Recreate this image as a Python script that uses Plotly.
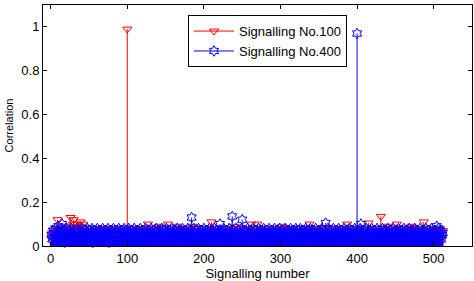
import plotly.graph_objects as go

# Signalling index (categories on the x axis)
signal_index = list(range(1, 513))

# Correlation values (Signalling No.100, red)
corr_no100 = [
    0.04, 0.06, 0.02, 0.07, 0.05, 0.03, 0.08, 0.06, 0.12, 0.04, 0.05, 0.02, 0.07, 0.09, 0.03, 0.06,
    0.05, 0.01, 0.07, 0.04, 0.08, 0.06, 0.03, 0.09, 0.05, 0.13, 0.07, 0.04, 0.10, 0.12, 0.06, 0.03,
    0.08, 0.05, 0.10, 0.07, 0.02, 0.09, 0.11, 0.06, 0.04, 0.10, 0.08, 0.05, 0.03, 0.07, 0.06, 0.02,
    0.05, 0.07, 0.03, 0.06, 0.08, 0.04, 0.01, 0.07, 0.05, 0.03, 0.06, 0.08, 0.04, 0.02, 0.07, 0.05,
    0.03, 0.06, 0.08, 0.05, 0.02, 0.07, 0.04, 0.06, 0.03, 0.08, 0.05, 0.01, 0.06, 0.04, 0.07, 0.05,
    0.06, 0.03, 0.07, 0.05, 0.08, 0.02, 0.04, 0.06, 0.07, 0.03, 0.05, 0.08, 0.04, 0.06, 0.02, 0.07,
    0.05, 0.03, 0.06, 0.99, 0.04, 0.07, 0.05, 0.02, 0.06, 0.08, 0.04, 0.05, 0.03, 0.07, 0.06, 0.04,
    0.08, 0.05, 0.02, 0.06, 0.04, 0.07, 0.03, 0.05, 0.08, 0.06, 0.02, 0.04, 0.07, 0.05, 0.10, 0.06,
    0.03, 0.07, 0.05, 0.04, 0.08, 0.06, 0.02, 0.05, 0.07, 0.03, 0.06, 0.04, 0.09, 0.05, 0.03, 0.07,
    0.04, 0.06, 0.08, 0.05, 0.03, 0.07, 0.05, 0.02, 0.10, 0.06, 0.04, 0.08, 0.05, 0.03, 0.06, 0.07,
    0.05, 0.02, 0.06, 0.04, 0.09, 0.07, 0.03, 0.05, 0.08, 0.06, 0.04, 0.02, 0.07, 0.05, 0.03, 0.06,
    0.08, 0.04, 0.06, 0.03, 0.05, 0.07, 0.02, 0.06, 0.09, 0.04, 0.05, 0.07, 0.03, 0.06, 0.08, 0.05,
    0.02, 0.06, 0.04, 0.07, 0.05, 0.03, 0.08, 0.06, 0.04, 0.02, 0.07, 0.05, 0.06, 0.03, 0.08, 0.04,
    0.06, 0.11, 0.05, 0.03, 0.07, 0.04, 0.06, 0.02, 0.08, 0.05, 0.03, 0.06, 0.07, 0.04, 0.05, 0.02,
    0.07, 0.05, 0.03, 0.06, 0.08, 0.04, 0.06, 0.02, 0.05, 0.07, 0.03, 0.06, 0.04, 0.08, 0.05, 0.09,
    0.03, 0.06, 0.04, 0.07, 0.05, 0.02, 0.06, 0.08, 0.04, 0.05, 0.03, 0.07, 0.06, 0.04, 0.02, 0.05,
    0.07, 0.04, 0.06, 0.03, 0.08, 0.10, 0.05, 0.02, 0.06, 0.04, 0.07, 0.05, 0.03, 0.10, 0.06, 0.04,
    0.05, 0.08, 0.03, 0.06, 0.04, 0.07, 0.02, 0.05, 0.06, 0.08, 0.04, 0.03, 0.07, 0.05, 0.06, 0.02,
    0.06, 0.04, 0.07, 0.05, 0.03, 0.08, 0.06, 0.04, 0.02, 0.07, 0.05, 0.06, 0.03, 0.09, 0.04, 0.06,
    0.08, 0.05, 0.03, 0.06, 0.04, 0.07, 0.05, 0.02, 0.06, 0.08, 0.04, 0.05, 0.07, 0.03, 0.06, 0.04,
    0.02, 0.07, 0.05, 0.04, 0.06, 0.08, 0.03, 0.05, 0.07, 0.04, 0.06, 0.02, 0.05, 0.07, 0.03, 0.06,
    0.08, 0.10, 0.04, 0.06, 0.03, 0.07, 0.05, 0.02, 0.06, 0.04, 0.08, 0.05, 0.03, 0.07, 0.06, 0.04,
    0.05, 0.07, 0.02, 0.06, 0.04, 0.08, 0.05, 0.03, 0.07, 0.06, 0.04, 0.02, 0.05, 0.07, 0.03, 0.06,
    0.04, 0.08, 0.06, 0.03, 0.05, 0.07, 0.04, 0.06, 0.02, 0.05, 0.08, 0.04, 0.06, 0.03, 0.07, 0.05,
    0.06, 0.03, 0.10, 0.05, 0.07, 0.04, 0.02, 0.06, 0.08, 0.05, 0.03, 0.07, 0.04, 0.06, 0.05, 0.03,
    0.07, 0.05, 0.08, 0.04, 0.06, 0.02, 0.07, 0.05, 0.03, 0.06, 0.08, 0.04, 0.05, 0.07, 0.105, 0.04,
    0.06, 0.03, 0.08, 0.05, 0.07, 0.04, 0.02, 0.06, 0.08, 0.05, 0.07, 0.04, 0.06, 0.03, 0.135, 0.07,
    0.05, 0.08, 0.03, 0.06, 0.04, 0.07, 0.05, 0.09, 0.06, 0.03, 0.07, 0.05, 0.08, 0.04, 0.06, 0.02,
    0.07, 0.05, 0.04, 0.10, 0.06, 0.08, 0.03, 0.05, 0.07, 0.04, 0.06, 0.08, 0.05, 0.02, 0.07, 0.06,
    0.04, 0.08, 0.05, 0.03, 0.07, 0.06, 0.09, 0.04, 0.05, 0.08, 0.03, 0.06, 0.07, 0.05, 0.02, 0.06,
    0.08, 0.04, 0.06, 0.05, 0.07, 0.03, 0.11, 0.06, 0.04, 0.08, 0.05, 0.07, 0.02, 0.06, 0.04, 0.08,
    0.05, 0.07, 0.03, 0.06, 0.08, 0.04, 0.06, 0.05, 0.02, 0.07, 0.05, 0.08, 0.04, 0.06, 0.03, 0.07,
]

# Correlation values (Signalling No.400, blue)
corr_no400 = [
    0.05, 0.03, 0.07, 0.04, 0.06, 0.08, 0.02, 0.05, 0.07, 0.09, 0.04, 0.06, 0.03, 0.08, 0.10, 0.05,
    0.07, 0.04, 0.06, 0.02, 0.08, 0.05, 0.03, 0.07, 0.06, 0.04, 0.08, 0.05, 0.02, 0.06, 0.07, 0.04,
    0.03, 0.06, 0.08, 0.05, 0.07, 0.02, 0.04, 0.06, 0.08, 0.03, 0.05, 0.07, 0.04, 0.06, 0.02, 0.08,
    0.05, 0.04, 0.07, 0.03, 0.06, 0.08, 0.05, 0.02, 0.07, 0.04, 0.06, 0.05, 0.08, 0.03, 0.06, 0.04,
    0.07, 0.02, 0.05, 0.08, 0.04, 0.06, 0.03, 0.07, 0.05, 0.04, 0.08, 0.06, 0.02, 0.05, 0.07, 0.03,
    0.06, 0.08, 0.04, 0.05, 0.02, 0.07, 0.06, 0.03, 0.08, 0.05, 0.04, 0.07, 0.06, 0.02, 0.05, 0.08,
    0.04, 0.06, 0.03, 0.07, 0.05, 0.08, 0.02, 0.06, 0.04, 0.07, 0.05, 0.03, 0.08, 0.06, 0.04, 0.05,
    0.02, 0.07, 0.06, 0.04, 0.08, 0.05, 0.03, 0.06, 0.07, 0.02, 0.05, 0.08, 0.04, 0.06, 0.03, 0.07,
    0.05, 0.04, 0.08, 0.06, 0.03, 0.07, 0.05, 0.02, 0.06, 0.08, 0.04, 0.05, 0.07, 0.03, 0.06, 0.04,
    0.08, 0.05, 0.02, 0.07, 0.06, 0.04, 0.08, 0.05, 0.03, 0.06, 0.07, 0.04, 0.02, 0.08, 0.05, 0.06,
    0.03, 0.07, 0.05, 0.04, 0.08, 0.06, 0.02, 0.05, 0.07, 0.04, 0.06, 0.08, 0.03, 0.05, 0.07, 0.04,
    0.06, 0.02, 0.08, 0.05, 0.04, 0.07, 0.06, 0.13, 0.03, 0.05, 0.08, 0.04, 0.06, 0.07, 0.02, 0.05,
    0.08, 0.04, 0.06, 0.03, 0.07, 0.05, 0.02, 0.08, 0.06, 0.04, 0.05, 0.07, 0.03, 0.06, 0.08, 0.04,
    0.05, 0.07, 0.03, 0.06, 0.04, 0.08, 0.05, 0.02, 0.07, 0.06, 0.04, 0.05, 0.10, 0.03, 0.07, 0.06,
    0.04, 0.08, 0.05, 0.02, 0.06, 0.07, 0.04, 0.05, 0.08, 0.03, 0.06, 0.04, 0.135, 0.07, 0.05, 0.02,
    0.06, 0.08, 0.04, 0.05, 0.07, 0.03, 0.06, 0.04, 0.08, 0.12, 0.05, 0.02, 0.07, 0.06, 0.04, 0.05,
    0.08, 0.03, 0.06, 0.05, 0.07, 0.04, 0.02, 0.08, 0.06, 0.05, 0.03, 0.07, 0.04, 0.06, 0.08, 0.05,
    0.02, 0.06, 0.07, 0.04, 0.05, 0.08, 0.03, 0.06, 0.04, 0.07, 0.05, 0.02, 0.08, 0.06, 0.04, 0.05,
    0.07, 0.03, 0.05, 0.08, 0.06, 0.04, 0.07, 0.02, 0.05, 0.06, 0.08, 0.04, 0.03, 0.07, 0.05, 0.06,
    0.04, 0.08, 0.06, 0.02, 0.05, 0.07, 0.04, 0.06, 0.08, 0.03, 0.05, 0.07, 0.06, 0.04, 0.02, 0.08,
    0.05, 0.06, 0.03, 0.07, 0.04, 0.08, 0.06, 0.05, 0.02, 0.07, 0.04, 0.06, 0.08, 0.05, 0.03, 0.06,
    0.07, 0.04, 0.08, 0.05, 0.02, 0.06, 0.07, 0.04, 0.05, 0.08, 0.03, 0.06, 0.04, 0.07, 0.05, 0.02,
    0.06, 0.08, 0.04, 0.05, 0.07, 0.03, 0.105, 0.06, 0.04, 0.08, 0.05, 0.02, 0.07, 0.06, 0.04, 0.05,
    0.08, 0.03, 0.06, 0.04, 0.07, 0.05, 0.02, 0.08, 0.06, 0.04, 0.05, 0.07, 0.03, 0.06, 0.08, 0.04,
    0.05, 0.07, 0.02, 0.06, 0.04, 0.08, 0.05, 0.03, 0.07, 0.06, 0.04, 0.05, 0.08, 0.02, 0.06, 0.97,
    0.04, 0.07, 0.05, 0.08, 0.10, 0.03, 0.06, 0.04, 0.07, 0.05, 0.02, 0.08, 0.06, 0.04, 0.05, 0.07,
    0.03, 0.06, 0.08, 0.05, 0.04, 0.07, 0.02, 0.06, 0.05, 0.08, 0.04, 0.06, 0.03, 0.07, 0.05, 0.04,
    0.08, 0.05, 0.02, 0.06, 0.07, 0.04, 0.05, 0.08, 0.03, 0.06, 0.04, 0.07, 0.05, 0.02, 0.08, 0.06,
    0.04, 0.05, 0.07, 0.03, 0.06, 0.08, 0.04, 0.05, 0.02, 0.07, 0.06, 0.04, 0.08, 0.05, 0.03, 0.06,
    0.07, 0.04, 0.06, 0.08, 0.02, 0.05, 0.07, 0.04, 0.06, 0.03, 0.08, 0.05, 0.04, 0.07, 0.06, 0.02,
    0.05, 0.08, 0.04, 0.06, 0.03, 0.07, 0.05, 0.02, 0.06, 0.08, 0.04, 0.05, 0.07, 0.03, 0.06, 0.04,
    0.08, 0.05, 0.03, 0.06, 0.07, 0.04, 0.02, 0.09, 0.05, 0.08, 0.04, 0.06, 0.07, 0.03, 0.05, 0.06,
]

series_names = ["Signalling No.100", "Signalling No.400"]
x_ticks = [0, 100, 200, 300, 400, 500]
y_ticks = [0, 0.2, 0.4, 0.6, 0.8, 1]

RED = "#FF0000"
BLUE = "#0000FF"
FONT = "Liberation Sans, Arial, Helvetica, sans-serif"

fig = go.Figure()

def add_stem(values, color, symbol, name):
    # stems drawn as one-sided error bars down to the baseline
    fig.add_trace(go.Scatter(
        x=signal_index, y=values, mode="markers",
        marker=dict(symbol=symbol, size=8, color=color, line=dict(width=1, color=color)),
        error_y=dict(type="data", symmetric=False, array=[0] * len(values),
                     arrayminus=values, width=0, thickness=1, color=color),
        cliponaxis=False, showlegend=False, hoverinfo="x+y",
    ))
    # legend entry with line + marker
    fig.add_trace(go.Scatter(
        x=[None], y=[None], mode="lines+markers", name=name,
        line=dict(color=color, width=1),
        marker=dict(symbol=symbol, size=8, color=color, line=dict(width=1, color=color)),
    ))

add_stem(corr_no100, RED, "triangle-down-open", series_names[0])
add_stem(corr_no400, BLUE, "hexagram-open", series_names[1])

axis_common = dict(
    showline=True, linecolor="black", linewidth=1, mirror="ticks",
    ticks="inside", ticklen=4, tickcolor="black", showgrid=False, zeroline=False,
    tickfont=dict(family=FONT, size=13, color="black"), automargin=False,
)

fig.update_layout(
    width=474, height=281,
    margin=dict(l=43, r=2, t=5, b=35),
    paper_bgcolor="white", plot_bgcolor="white",
    font=dict(family=FONT, size=13, color="black"),
    xaxis=dict(range=[-10, 550], tickvals=x_ticks, ticktext=[str(v) for v in x_ticks],
               title=dict(text="Signalling number", font=dict(size=13), standoff=3),
               **axis_common),
    yaxis=dict(range=[0, 1.1], tickvals=y_ticks, ticktext=["0", "0.2", "0.4", "0.6", "0.8", "1"],
               title=dict(text="Correlation", font=dict(size=11), standoff=5),
               **axis_common),
    legend=dict(x=0.338, y=0.958, xanchor="left", yanchor="top",
                bgcolor="white", bordercolor="black", borderwidth=1,
                font=dict(family=FONT, size=13), tracegroupgap=0, itemwidth=40),
)

fig.write_html("out.html", config={"displayModeBar": False},
               post_script="document.body.style.margin='0';")
